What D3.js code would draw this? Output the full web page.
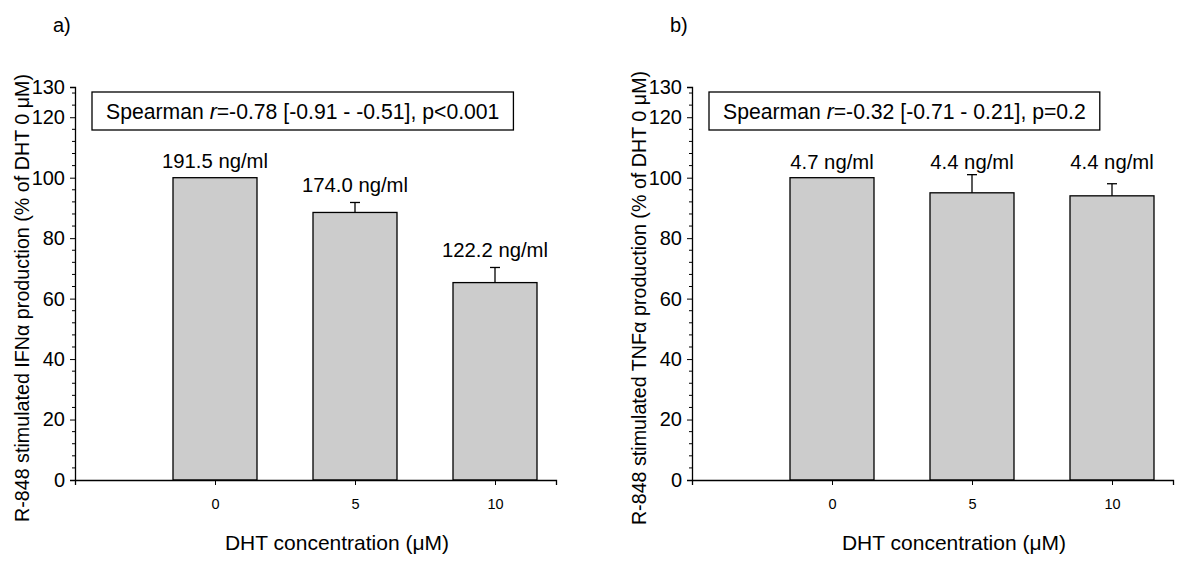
<!DOCTYPE html>
<html>
<head>
<meta charset="utf-8">
<script src="https://cdn.jsdelivr.net/npm/d3@7"></script>
<style>
  body { margin: 0; background: #fff; }
  text { font-family: "Liberation Sans", Arial, sans-serif; fill: #000; }
</style>
</head>
<body>
<svg width="1200" height="562"></svg>
<script>
// values (% of DHT 0 uM)
const doses = ["0", "5", "10"];
const ifnValues = [100, 88.5, 65.3];
const ifnSem = [0, 3.3, 5.0];
const ifnLabels = ["191.5 ng/ml", "174.0 ng/ml", "122.2 ng/ml"];
const tnfValues = [100, 95.0, 94.0];
const tnfSem = [0, 6.0, 4.0];
const tnfLabels = ["4.7 ng/ml", "4.4 ng/ml", "4.4 ng/ml"];
const yTicks = [0, 20, 40, 60, 80, 100, 120, 130];

var svg = d3.select("svg");

var y = d3.scaleLinear()
    .domain([0, 130])
    .range([480, 87]);

function drawPanel(left, tag, values, sem, labels, cytokine, stats, alignLabels) {
    var g = svg.append("g");

    // positions 1,2,3 in units of 140px from the y axis
    var x = d3.scaleLinear()
        .domain([0, 481 / 140])
        .range([left, left + 481]);

    var rows = doses.map(function(d, i) {
        return { dose: d, pos: i + 1, v: values[i], e: sem[i], label: labels[i] };
    });

    // bars
    g.selectAll("rect.bar")
        .data(rows)
        .enter().append("rect")
        .attr("class", "bar")
        .attr("x", function(d) { return x(d.pos - 0.3); })
        .attr("width", function(d) { return x(d.pos + 0.3) - x(d.pos - 0.3); })
        .attr("y", function(d) { return y(d.v); })
        .attr("height", function(d) { return y(0) - y(d.v); })
        .attr("fill", "#cccccc")
        .attr("stroke", "#000")
        .attr("stroke-width", 1.3);

    // error bars (upper only)
    var eb = g.selectAll("g.err")
        .data(rows.filter(function(d) { return d.e > 0; }))
        .enter().append("g")
        .attr("class", "err")
        .attr("stroke", "#000")
        .attr("stroke-width", 1.3);
    eb.append("line")
        .attr("x1", function(d) { return x(d.pos); })
        .attr("x2", function(d) { return x(d.pos); })
        .attr("y1", function(d) { return y(d.v); })
        .attr("y2", function(d) { return y(d.v + d.e); });
    eb.append("line")
        .attr("x1", function(d) { return x(d.pos) - 5; })
        .attr("x2", function(d) { return x(d.pos) + 5; })
        .attr("y1", function(d) { return y(d.v + d.e); })
        .attr("y2", function(d) { return y(d.v + d.e); });

    // value labels
    g.selectAll("text.val")
        .data(rows)
        .enter().append("text")
        .attr("class", "val")
        .attr("x", function(d) { return x(d.pos); })
        .attr("y", function(d) { return alignLabels ? y(100) - 9 : y(d.v + d.e) - 10; })
        .attr("text-anchor", "middle")
        .attr("font-size", 20.3)
        .text(function(d) { return d.label; });

    // y axis
    var yAxis = g.append("g")
        .attr("transform", "translate(" + left + ",0)")
        .call(d3.axisLeft(y).tickValues(yTicks).tickSize(5).tickPadding(5));
    yAxis.selectAll("text").attr("font-size", 20).attr("font-family", null);
    var minor = d3.range(4, 129, 4).filter(function(v) { return yTicks.indexOf(v) < 0; });
    g.append("g")
        .selectAll("line")
        .data(minor)
        .enter().append("line")
        .attr("x1", left - 3)
        .attr("x2", left)
        .attr("y1", function(d) { return y(d); })
        .attr("y2", function(d) { return y(d); })
        .attr("stroke", "#000");

    // x axis
    var xAxis = g.append("g")
        .attr("transform", "translate(0," + y(0) + ")")
        .call(d3.axisBottom(x).tickValues([1, 2, 3]).tickSize(5).tickPadding(14)
            .tickFormat(function(d) { return doses[d - 1]; }));
    xAxis.selectAll("text").attr("font-size", 14.5).attr("font-family", null);

    g.selectAll(".domain").attr("stroke-width", 1.3);
    g.selectAll(".tick line").attr("stroke-width", 1);

    // axis titles
    g.append("text")
        .attr("x", left + 262)
        .attr("y", 550)
        .attr("text-anchor", "middle")
        .attr("font-size", 21)
        .text("DHT concentration (\u03bcM)");

    g.append("text")
        .attr("transform", "translate(" + (left - 46) + ",298) rotate(-90)")
        .attr("text-anchor", "middle")
        .attr("font-size", 19.7)
        .text("R-848 stimulated " + cytokine + " production (% of DHT 0 \u03bcM)");

    // panel tag
    g.append("text")
        .attr("x", left - 22)
        .attr("y", 32)
        .attr("font-size", 20)
        .text(tag);

    // spearman box
    var st = g.append("text")
        .attr("x", left + 31)
        .attr("y", 119)
        .attr("font-size", 21.2);
    st.append("tspan").text("Spearman ");
    st.append("tspan").attr("font-style", "italic").text("r");
    st.append("tspan").text(stats);
    var bb = st.node().getBBox();
    g.insert("rect", "text")
        .attr("x", left + 17)
        .attr("y", 92)
        .attr("width", bb.width + 28)
        .attr("height", 38)
        .attr("fill", "#fff")
        .attr("stroke", "#000")
        .attr("stroke-width", 1.3);
}

drawPanel(75, "a)", ifnValues, ifnSem, ifnLabels, "IFN\u03b1",
    "=-0.78 [-0.91 - -0.51], p<0.001", false);
drawPanel(692, "b)", tnfValues, tnfSem, tnfLabels, "TNF\u03b1",
    "=-0.32 [-0.71 - 0.21], p=0.2", true);
</script>
</body>
</html>
